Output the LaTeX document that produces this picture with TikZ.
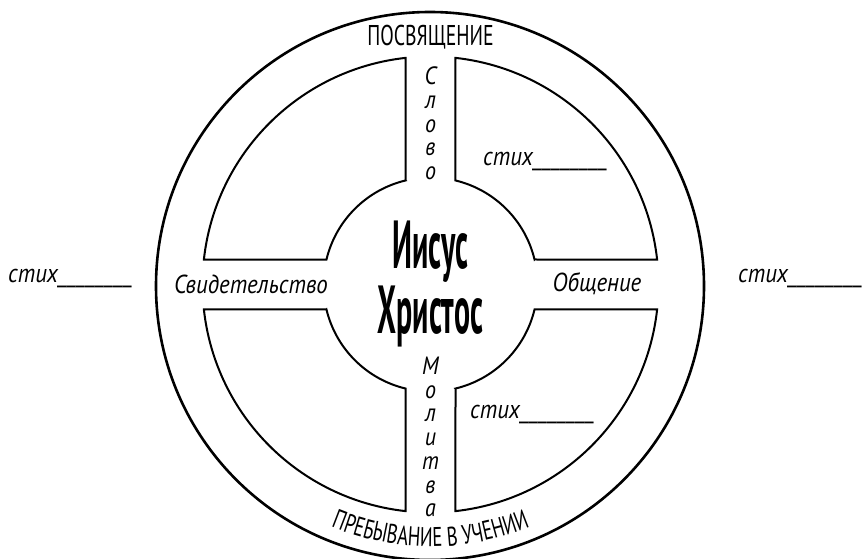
\documentclass[tikz,border=0pt]{standalone}
\usepackage{fontspec}
\usetikzlibrary{decorations.text,calc}
\newfontfamily\capsf[FakeStretch=0.69]{PT Sans}
\newfontfamily\bigf[FakeStretch=0.44]{PT Sans}
\newfontfamily\itf[FakeStretch=0.88]{PT Sans}
\tikzset{
  piece/.style={draw=black, line width=2pt, line join=miter},
  rim/.style={draw=black, line width=2.6pt},
  capstext/.style={font=\capsf\fontsize{28.6}{30}\selectfont, inner sep=0pt},
  lowtext/.style={font=\itf\itshape\fontsize{26}{28}\selectfont, inner sep=0pt},
  stacktext/.style={font=\itf\itshape\fontsize{25}{23.75}\selectfont, inner sep=0pt, align=center},
  bigtext/.style={font=\bigf\bfseries\fontsize{68}{65}\selectfont, inner sep=0pt, align=center},
}
\begin{document}
\begin{tikzpicture}[x=1pt,y=1pt]
\useasboundingbox (0,0) rectangle (863,558);
\coordinate (C) at (430.5,273.5);
\coordinate (O) at (430,272);
\draw[rim] (O) circle[radius=274];
\foreach \r in {0,90,180,270}{
  \draw[piece, shift={(C)}, rotate=\r] (-25,104.04) -- (96.29:228)
    arc[start angle=96.29,end angle=173.71,radius=228] -- (166.49:107)
    arc[start angle=166.49,end angle=103.51,radius=107] -- cycle;
}
\coordinate (arcstart) at ($(C)+(233:262)$);
\path[decorate, decoration={text along path, text={|\capsf\fontsize{27}{28}\selectfont|ПРЕБЫВАНИЕ В УЧЕНИИ}, text align=center}]
  (arcstart) arc[start angle=233,end angle=307,radius=262];
\node[capstext] (posv) at (430.5,521) {ПОСВЯЩЕНИЕ};
\node[bigtext] (jc) at (430.5,274.5) {Иисус\\Христос};
\node[lowtext] (svid) at (251,274) {Свидетельство};
\node[lowtext] (obsch) at (597,274) {Общение};
\node[stacktext] (slovo) at (430.5,434.5) {С\\л\\о\\в\\о};
\node[stacktext] (molitva) at (430.5,121) {М\\о\\л\\и\\т\\в\\а};
\node[lowtext, anchor=base west] (st1) at (8,275) {стих\_\_\_\_\_\_\_\_};
\node[lowtext, anchor=base west] (st2) at (738,275) {стих\_\_\_\_\_\_\_\_};
\node[lowtext, anchor=base west] (st3) at (483,392) {стих\_\_\_\_\_\_\_\_};
\node[lowtext, anchor=base west] (st4) at (470,140) {стих\_\_\_\_\_\_\_\_};
\end{tikzpicture}
\end{document}
